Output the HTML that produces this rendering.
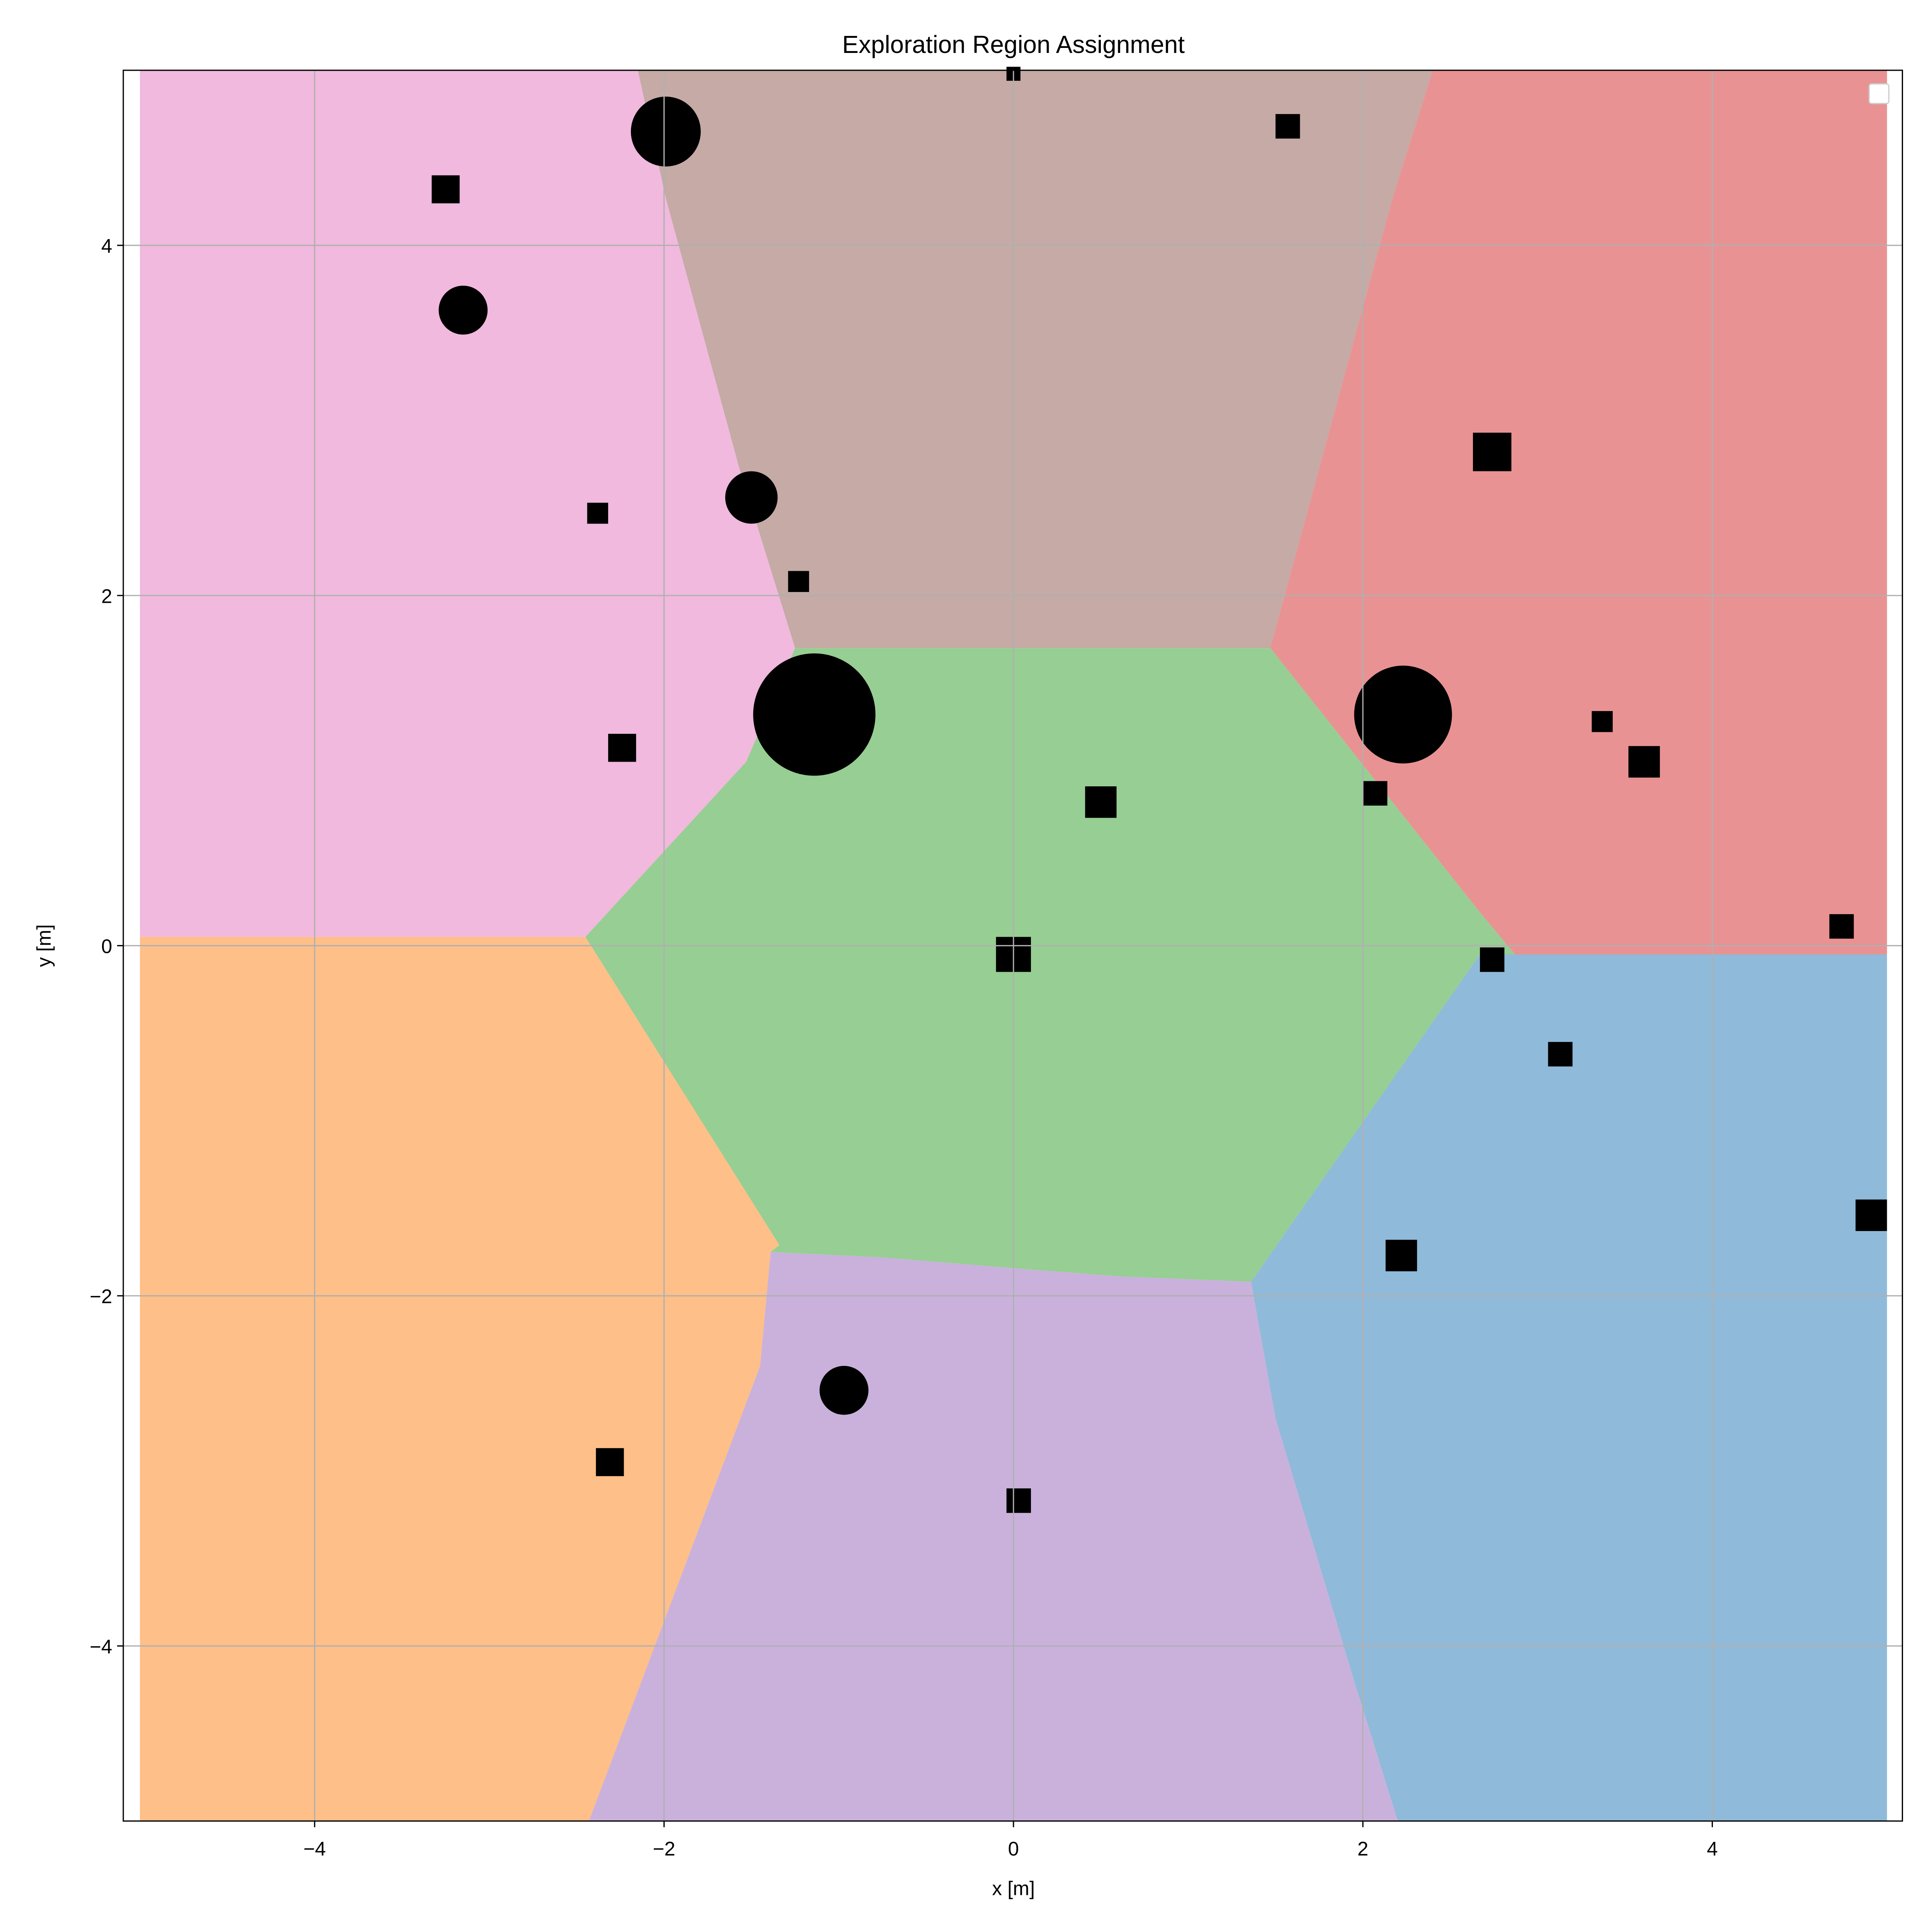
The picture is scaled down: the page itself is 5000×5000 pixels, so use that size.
<!DOCTYPE html>
<html><head><meta charset="utf-8"><style>
html,body{margin:0;padding:0;background:#fff}
svg{display:block}
text{font-family:"Liberation Sans","DejaVu Sans",sans-serif;fill:#000}
</style></head><body>
<svg id="chart" width="5000" height="5000" viewBox="0 0 1567 1567" xmlns="http://www.w3.org/2000/svg">
<rect x="0" y="0" width="1567" height="1567" fill="#fff"/>
<g id="regions"></g>
<g id="obstacles"></g>
<g id="grid"></g>
<g id="ticks"></g>
<rect x="100" y="57" width="1443" height="1420" fill="none" stroke="#000" stroke-width="1"/>
<rect x="1516" y="68" width="16" height="16" rx="2" fill="#fff" stroke="#ccc" stroke-width="1"/>
<text x="822" y="43" font-size="20" text-anchor="middle">Exploration Region Assignment</text>
<text x="822" y="1537" font-size="16" text-anchor="middle">x [m]</text>
<text x="0" y="0" font-size="16" text-anchor="middle" transform="translate(41,767) rotate(-90)">y [m]</text>
</svg>
<script>
const xTicks=[-4,-2,0,2,4];
const yTicks=[-4,-2,0,2,4];
const regionNames=["pink","brown","red","green","orange","purple","blue"];
const regionColors=["#f0b9dd","#c5aaa5","#e99293","#97ce93","#febf88","#c9b1dc","#90bad9"];
const regionPolys=[
 [[-5,5],[-2.15,5],[-1.99,4.27],[-1.57,2.73],[-1.25,1.70],[-1.53,1.05],[-2.45,0.05],[-5,0.05]],
 [[-2.15,5],[2.4,5],[2.17,4.27],[1.71,2.58],[1.47,1.70],[-1.25,1.70],[-1.57,2.73],[-1.99,4.27]],
 [[2.4,5],[5,5],[5,-0.05],[2.87,-0.05],[2.67,0.19],[1.47,1.70],[1.71,2.58],[2.17,4.27]],
 [[-1.25,1.70],[1.47,1.70],[2.67,0.19],[2.87,-0.05],[2.67,-0.05],[1.36,-1.92],[0.62,-1.89],[-0.03,-1.84],[-0.76,-1.78],[-1.39,-1.75],[-1.34,-1.71],[-2.45,0.05],[-1.53,1.05]],
 [[-5,0.05],[-2.45,0.05],[-1.34,-1.71],[-1.39,-1.75],[-1.45,-2.4],[-2.43,-5],[-5,-5]],
 [[-1.39,-1.75],[-0.76,-1.78],[-0.03,-1.84],[0.62,-1.89],[1.36,-1.92],[1.5,-2.7],[1.95,-4.2],[2.2,-5],[-2.43,-5],[-1.45,-2.4]],
 [[2.67,-0.05],[5,-0.05],[5,-5],[2.2,-5],[1.95,-4.2],[1.5,-2.7],[1.36,-1.92]]
];
const obsX=[-1.99,-3.25,-3.15,-1.5,-2.38,-1.23,-1.14,-2.24,2.23,1.57,2.74,3.37,3.61,2.07,0.5,0,4.74,2.74,3.13,4.91,2.22,-0.97,-2.31,0.03,0];
const obsY=[4.65,4.32,3.63,2.56,2.47,2.08,1.32,1.13,1.32,4.68,2.82,1.28,1.05,0.87,0.82,-0.05,0.11,-0.08,-0.62,-1.54,-1.77,-2.54,-2.95,-3.17,4.98];
const obsR=[0.2,0.08,0.14,0.15,0.06,0.06,0.35,0.08,0.28,0.07,0.11,0.06,0.09,0.07,0.09,0.1,0.07,0.07,0.07,0.09,0.09,0.14,0.08,0.07,0.04];

const X0=822,KX=141.7,Y0=767,KY=142;
const sx=v=>X0+v*KX, sy=v=>Y0-v*KY;
const NS="http://www.w3.org/2000/svg";
const mk=(t,a,p)=>{const e=document.createElementNS(NS,t);for(const k in a)e.setAttribute(k,a[k]);p.appendChild(e);return e;};

const gR=document.getElementById('regions');
regionPolys.forEach((poly,i)=>{
 const e=mk('polygon',{points:poly.map(p=>sx(p[0])+','+sy(p[1])).join(' '),fill:regionColors[i]},gR);
 
 
});
const gO=document.getElementById('obstacles');
obsX.forEach((x,i)=>{
 const r=obsR[i];let e;
 if(r>=0.14){e=mk('circle',{cx:sx(x),cy:sy(obsY[i]),r:r*KX,fill:'#000'},gO);}
 else{e=mk('rect',{x:sx(x)-r*KX,y:sy(obsY[i])-r*KY,width:2*r*KX,height:2*r*KY,fill:'#000'},gO);}
 
 
});
const gG=document.getElementById('grid'),gT=document.getElementById('ticks');
xTicks.forEach(v=>{
 const l=mk('line',{x1:sx(v),x2:sx(v),y1:57,y2:1477,stroke:'#b0b0b0','stroke-width':1},gG);
 
 
 mk('line',{x1:sx(v),x2:sx(v),y1:1477,y2:1482,stroke:'#000','stroke-width':1},gT);
 const t=mk('text',{x:sx(v),y:1505,'font-size':16,'text-anchor':'middle'},gT);
 t.textContent=(v<0?'\u2212'+(-v):v);
 
 
});
yTicks.forEach(v=>{
 const l=mk('line',{x1:100,x2:1543,y1:sy(v),y2:sy(v),stroke:'#b0b0b0','stroke-width':1},gG);
 
 
 mk('line',{x1:95,x2:100,y1:sy(v),y2:sy(v),stroke:'#000','stroke-width':1},gT);
 const t=mk('text',{x:91,y:sy(v)+6,'font-size':16,'text-anchor':'end'},gT);
 t.textContent=(v<0?'\u2212'+(-v):v);
 
 
});
</script>
</body></html>
